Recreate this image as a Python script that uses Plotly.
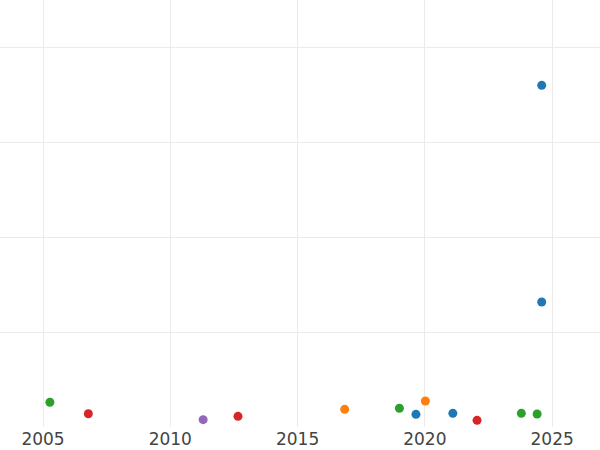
import plotly.graph_objects as go

# Data (y in arbitrary units, gridlines every 10)
blue_x = [2019.65, 2021.10, 2024.59, 2024.59]
blue_y = [1.33, 1.44, 35.97, 13.16]
orange_x = [2016.85, 2020.02]
orange_y = [1.86, 2.74]
green_x = [2005.27, 2019.00, 2023.79, 2024.41]
green_y = [2.60, 1.97, 1.44, 1.37]
red_x = [2006.78, 2012.66, 2022.05]
red_y = [1.40, 1.12, 0.70]
purple_x = [2011.29]
purple_y = [0.77]

series = [
    ("A", blue_x, blue_y, "#1f77b4"),
    ("B", orange_x, orange_y, "#ff7f0e"),
    ("C", green_x, green_y, "#2ca02c"),
    ("D", red_x, red_y, "#d62728"),
    ("E", purple_x, purple_y, "#9467bd"),
]

fig = go.Figure()
for name, xs, ys, col in series:
    fig.add_trace(go.Scatter(x=xs, y=ys, mode="markers", name=name,
                             marker=dict(color=col, size=9)))

fig.update_layout(
    width=600, height=450,
    margin=dict(l=0, r=0, t=0, b=23),
    plot_bgcolor="white", paper_bgcolor="white",
    showlegend=False,
    font=dict(family="DejaVu Sans", size=17, color="#444"),
)
fig.update_xaxes(range=[2003.31, 2026.88], tickvals=[2005, 2010, 2015, 2020, 2025],
                 showgrid=True, gridcolor="#ebebeb", zeroline=False, showline=False, ticks="")
fig.update_yaxes(range=[0, 44.95], dtick=10, showticklabels=False,
                 showgrid=True, gridcolor="#ebebeb", zeroline=False, showline=False)

fig.write_html("out.html",
               config={"displayModeBar": False},
               post_script="document.body.style.margin='0';document.body.style.overflow='hidden';")
